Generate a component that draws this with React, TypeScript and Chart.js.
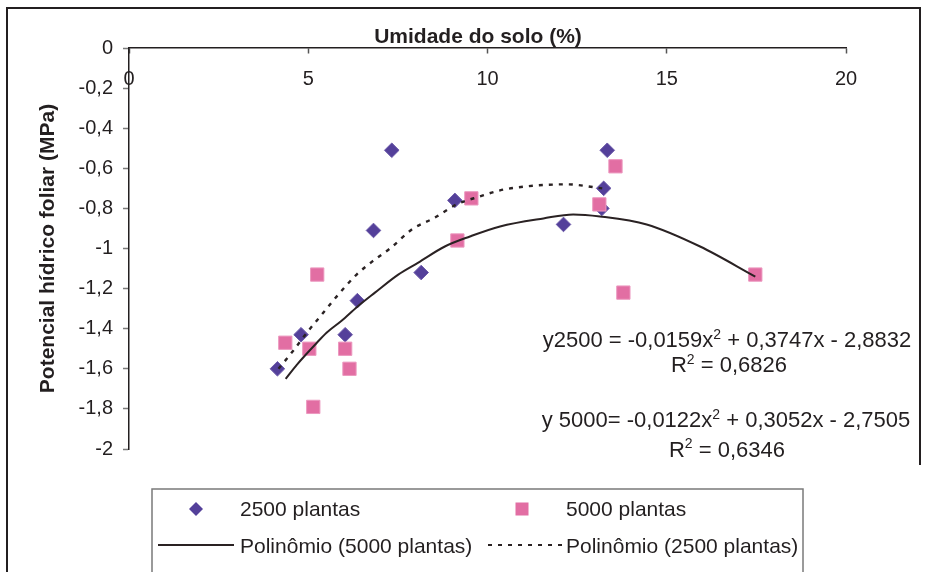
import React, { useEffect, useRef } from 'react';
import { Chart, registerables } from 'chart.js';

Chart.register(...registerables);

// ---------- data ----------
const xTickValues = [0, 5, 10, 15, 20];
const xTickLabels = ['0', '5', '10', '15', '20'];
const yTickValues = [-2, -1.8, -1.6, -1.4, -1.2, -1, -0.8, -0.6, -0.4, -0.2, 0];
const yTickLabels = ['-2', '-1,8', '-1,6', '-1,4', '-1,2', '-1', '-0,8', '-0,6', '-0,4', '-0,2', '0'];

const xTitle = 'Umidade do solo (%)';
const yTitle = 'Potencial hídrico foliar (MPa)';
const seriesNames = ['2500 plantas', '5000 plantas', 'Polinômio (5000 plantas)', 'Polinômio (2500 plantas)'];

const umidade2500 = [4.14, 4.8, 6.03, 6.37, 6.82, 7.33, 8.15, 9.09, 12.12, 13.19, 13.24, 13.34];
const potencial2500 = [-1.6, -1.43, -1.43, -1.26, -0.91, -0.51, -1.12, -0.76, -0.88, -0.8, -0.7, -0.51];

const umidade5000 = [4.36, 5.03, 5.14, 5.25, 6.03, 6.15, 9.16, 9.55, 13.12, 13.57, 13.79, 17.47];
const potencial5000 = [-1.47, -1.5, -1.79, -1.13, -1.5, -1.6, -0.96, -0.75, -0.78, -0.59, -1.22, -1.13];

// trend lines
const trend5000X = [4.37, 4.68, 5.24, 5.51, 5.93, 6.37, 6.86, 7.51, 8.07, 8.81, 9.51, 10.35, 11.56, 12.39, 13.14, 14.44, 15.93, 17.47];
const trend5000Y = [-1.65, -1.58, -1.47, -1.42, -1.36, -1.29, -1.22, -1.13, -1.07, -0.99, -0.94, -0.89, -0.85, -0.83, -0.84, -0.88, -0.99, -1.14];
const trend2500X = [4.17, 4.58, 4.96, 5.33, 5.79, 6.35, 6.82, 7.28, 7.93, 8.49, 9.14, 9.79, 10.35, 11.09, 12.21, 13.2];
const trend2500Y = [-1.6, -1.51, -1.42, -1.34, -1.24, -1.13, -1.06, -1.0, -0.9, -0.85, -0.78, -0.74, -0.71, -0.69, -0.68, -0.7];

const eq2500Parts = ['y2500 = -0,0159x', '2', ' + 0,3747x - 2,8832'];
const r2500Parts = ['R', '2', ' = 0,6826'];
const eq5000Parts = ['y 5000= -0,0122x', '2', ' + 0,3052x - 2,7505'];
const r5000Parts = ['R', '2', ' = 0,6346'];

// ---------- style ----------
const FONT = '"Liberation Sans", Arial, Helvetica, sans-serif';
const INK = '#231f20';
const PURPLE = '#54409a';
const PINK = '#e26ea3';
const LINE = '#2a2223';

const toPoints = (xs: number[], ys: number[]) => xs.map((x, i) => ({ x, y: ys[i] }));
const labelFor = (values: number[], labels: string[], v: number) => {
  const i = values.findIndex((t) => Math.abs(t - v) < 1e-9);
  return i >= 0 ? labels[i] : '';
};

function drawParts(ctx: CanvasRenderingContext2D, parts: string[], cx: number, baseline: number, size: number) {
  const normal = `${size}px ${FONT}`;
  const sup = `${Math.round(size * 0.64)}px ${FONT}`;
  const widths = parts.map((p, i) => {
    ctx.font = i % 2 === 1 ? sup : normal;
    return ctx.measureText(p).width;
  });
  const total = widths.reduce((a, b) => a + b, 0);
  let x = cx - total / 2;
  ctx.textAlign = 'left';
  ctx.textBaseline = 'alphabetic';
  parts.forEach((p, i) => {
    ctx.font = i % 2 === 1 ? sup : normal;
    ctx.fillText(p, x, i % 2 === 1 ? baseline - size * 0.38 : baseline);
    x += widths[i];
  });
}

const overlayPlugin = {
  id: 'overlay',
  afterDraw(chart: any) {
    const ctx: CanvasRenderingContext2D = chart.ctx;
    ctx.save();
    // outer frame
    ctx.strokeStyle = INK;
    ctx.lineWidth = 2;
    ctx.beginPath();
    ctx.moveTo(7, 580);
    ctx.lineTo(7, 8);
    ctx.lineTo(920, 8);
    ctx.lineTo(920, 465);
    ctx.stroke();

    // x axis title (above the axis)
    ctx.fillStyle = INK;
    ctx.font = `bold 21px ${FONT}`;
    ctx.textAlign = 'center';
    ctx.textBaseline = 'alphabetic';
    ctx.fillText(xTitle, 478, 43);

    // equations
    drawParts(ctx, eq2500Parts, 727, 347, 22);
    drawParts(ctx, r2500Parts, 729, 372, 22);
    drawParts(ctx, eq5000Parts, 726, 427, 22);
    drawParts(ctx, r5000Parts, 727, 456.5, 22);

    // legend box
    ctx.strokeStyle = '#7a7a7a';
    ctx.lineWidth = 1.5;
    ctx.strokeRect(152, 489, 651, 100);

    const ds = chart.data.datasets;
    // diamond
    ctx.fillStyle = ds[0].backgroundColor;
    ctx.beginPath();
    ctx.moveTo(196 - 7, 509);
    ctx.lineTo(196, 509 - 7);
    ctx.lineTo(196 + 7, 509);
    ctx.lineTo(196, 509 + 7);
    ctx.closePath();
    ctx.fill();
    // square
    ctx.fillStyle = ds[1].backgroundColor;
    ctx.fillRect(522 - 6.5, 509 - 6.5, 13, 13);
    // solid line
    ctx.strokeStyle = ds[2].borderColor;
    ctx.lineWidth = 2;
    ctx.setLineDash([]);
    ctx.beginPath();
    ctx.moveTo(158, 545);
    ctx.lineTo(234, 545);
    ctx.stroke();
    // dotted line
    ctx.strokeStyle = ds[3].borderColor;
    ctx.setLineDash(ds[3].borderDash);
    ctx.beginPath();
    ctx.moveTo(488, 545);
    ctx.lineTo(562, 545);
    ctx.stroke();
    ctx.setLineDash([]);

    ctx.fillStyle = INK;
    ctx.font = `21px ${FONT}`;
    ctx.textAlign = 'left';
    ctx.textBaseline = 'alphabetic';
    ctx.fillText(seriesNames[0], 240, 516);
    ctx.fillText(seriesNames[1], 566, 516);
    ctx.fillText(seriesNames[2], 240, 553);
    ctx.fillText(seriesNames[3], 566, 553);
    ctx.restore();
  },
};

export default function App() {
  const canvasRef = useRef<HTMLCanvasElement | null>(null);

  useEffect(() => {
    if (!canvasRef.current) return;
    Chart.defaults.font.family = FONT;
    Chart.defaults.color = INK;
    const chart = new Chart(canvasRef.current, {
      type: 'scatter',
      data: {
        datasets: [
          {
            label: seriesNames[0],
            data: toPoints(umidade2500, potencial2500),
            pointStyle: 'rectRot',
            pointRadius: 7.3,
            backgroundColor: PURPLE,
            borderColor: '#6a58a8',
            borderWidth: 1,
            order: 3,
          },
          {
            label: seriesNames[1],
            data: toPoints(umidade5000, potencial5000),
            pointStyle: 'rect',
            pointRadius: 9.4,
            backgroundColor: PINK,
            borderColor: '#ec98bf',
            borderWidth: 1,
            order: 2,
          },
          {
            label: seriesNames[2],
            data: toPoints(trend5000X, trend5000Y),
            showLine: true,
            pointRadius: 0,
            borderColor: LINE,
            backgroundColor: LINE,
            borderWidth: 2,
            cubicInterpolationMode: 'monotone',
            order: 1,
          },
          {
            label: seriesNames[3],
            data: toPoints(trend2500X, trend2500Y),
            showLine: true,
            pointRadius: 0,
            borderColor: LINE,
            backgroundColor: LINE,
            borderWidth: 2.4,
            borderDash: [4, 6],
            cubicInterpolationMode: 'monotone',
            order: 0,
          },
        ],
      },
      options: {
        responsive: false,
        animation: false,
        devicePixelRatio: 1,
        layout: { padding: { left: 0, top: 48, right: 83, bottom: 123 } },
        plugins: {
          legend: { display: false },
          tooltip: { enabled: false },
          title: { display: false },
        },
        scales: {
          x: {
            type: 'linear',
            position: { y: 0 } as any,
            min: 0,
            max: 20,
            afterBuildTicks: (scale: any) => {
              scale.ticks = xTickValues.map((v) => ({ value: v }));
            },
            ticks: {
              autoSkip: false,
              maxRotation: 0,
              padding: 14,
              color: INK,
              font: { size: 20 },
              callback: (v: any) => labelFor(xTickValues, xTickLabels, Number(v)),
            },
            grid: {
              drawOnChartArea: false,
              drawTicks: true,
              tickLength: 5,
              tickColor: '#555',
              tickWidth: 1.5,
            },
            border: { display: true, color: INK, width: 1.5 },
          },
          y: {
            type: 'linear',
            position: 'left',
            min: -2,
            max: 0,
            afterBuildTicks: (scale: any) => {
              scale.ticks = yTickValues.map((v) => ({ value: v }));
            },
            afterFit: (scale: any) => {
              scale.width = 129;
            },
            ticks: {
              autoSkip: false,
              padding: 10,
              color: INK,
              font: { size: 20 },
              callback: (v: any) => labelFor(yTickValues, yTickLabels, Number(v)),
            },
            grid: {
              drawOnChartArea: false,
              drawTicks: true,
              tickLength: 6,
              tickColor: '#7a7a7a',
              tickWidth: 1.5,
            },
            border: { display: true, color: INK, width: 1.5 },
            title: {
              display: true,
              text: yTitle,
              color: INK,
              font: { size: 21, weight: 'bold' },
              padding: { top: 36, bottom: 0 },
            },
          },
        },
      },
      plugins: [overlayPlugin],
    });
    return () => chart.destroy();
  }, []);

  return (
    <div style={{ position: 'absolute', left: 0, top: 0, width: 929, height: 572, background: '#ffffff' }}>
      <canvas ref={canvasRef} width={929} height={572} style={{ display: 'block' }} />
    </div>
  );
}
